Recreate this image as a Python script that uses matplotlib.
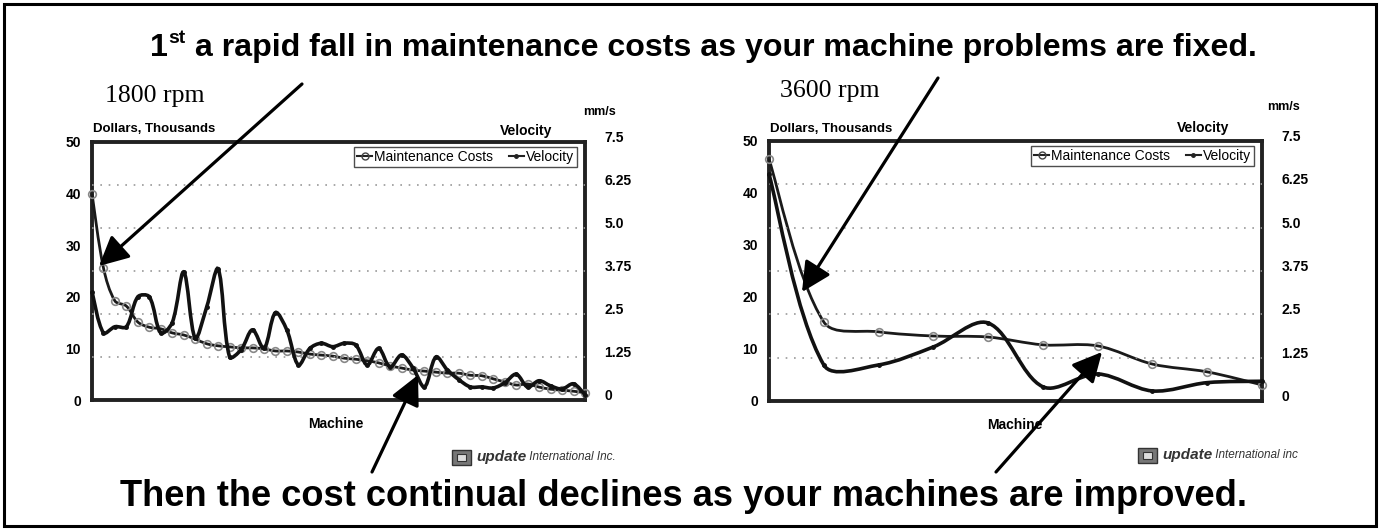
import numpy as np
import matplotlib
matplotlib.use("Agg")
import matplotlib.pyplot as plt
from matplotlib.path import Path
from matplotlib.patches import PathPatch, Rectangle
from matplotlib.lines import Line2D

plt.rcParams['font.family'] = ['Liberation Sans', 'DejaVu Sans']

# ---------------- data ----------------
cost_1800 = [40, 25.6, 19.2, 18.2, 15.1, 14.1, 13.8, 13, 12.6, 11.8, 10.9, 10.5, 10.3, 10.1,
             10.1, 9.9, 9.5, 9.5, 9.3, 8.9, 8.7, 8.5, 8.1, 7.9, 7.6, 7.2, 6.6, 6.2, 5.8, 5.6,
             5.4, 5.2, 5.2, 4.8, 4.7, 4.1, 3.5, 2.9, 3.1, 2.5, 2.1, 1.9, 1.7, 1.4]
vel_1800 = [3.15, 1.95, 2.13, 2.13, 3.0, 3.0, 1.95, 2.25, 3.72, 1.8, 2.7, 3.81, 1.25, 1.46,
            2.04, 1.5, 2.54, 2.03, 1.02, 1.5, 1.65, 1.55, 1.65, 1.6, 1.02, 1.5, 0.96, 1.31,
            0.93, 0.38, 1.25, 0.87, 0.59, 0.38, 0.38, 0.35, 0.5, 0.75, 0.38, 0.56, 0.41, 0.32,
            0.47, 0.15]
cost_3600 = [46.5, 15.2, 13.3, 12.5, 12.3, 10.8, 10.6, 7.1, 5.6, 3.1]
vel_3600 = [6.54, 1.04, 1.04, 1.56, 2.25, 0.41, 0.78, 0.29, 0.53, 0.57]

cost_ticks = [0, 10, 20, 30, 40, 50]
vel_ticks = [0, 1.25, 2.5, 3.75, 5.0, 6.25, 7.5]
vel_tick_labels = ['0', '1.25', '2.5', '3.75', '5.0', '6.25', '7.5']

title_text = " a rapid fall in maintenance costs as your machine problems are fixed."
bottom_text = "Then the cost continual declines as your machines are improved."

W, H = 1380, 531
fig = plt.figure(figsize=(W / 100, H / 100), dpi=100)


def smooth_path(xs, ys, sx, sy, t=1 / 3):
    """Smoothed (Excel-like) bezier path through the data points.
    sx, sy: pixel per data unit, used to weight tangents by screen segment lengths."""
    xs = np.asarray(xs, float)
    ys = np.asarray(ys, float)
    n = len(xs)
    d = np.hypot(np.diff(xs) * sx, np.diff(ys) * sy)
    verts = [(xs[0], ys[0])]
    codes = [Path.MOVETO]
    for i in range(n - 1):
        i0 = max(i - 1, 0)
        i3 = min(i + 2, n - 1)
        # tangent at i
        dprev = d[i - 1] if i > 0 else d[i]
        f1 = t * d[i] / (dprev + d[i])
        c1 = (xs[i] + (xs[i + 1] - xs[i0]) * f1, ys[i] + (ys[i + 1] - ys[i0]) * f1)
        dnext = d[i + 1] if i + 1 < n - 1 else d[i]
        f2 = t * d[i] / (d[i] + dnext)
        c2 = (xs[i + 1] - (xs[i3] - xs[i]) * f2, ys[i + 1] - (ys[i3] - ys[i]) * f2)
        verts += [c1, c2, (xs[i + 1], ys[i + 1])]
        codes += [Path.CURVE4] * 3
    return Path(verts, codes)


def make_chart(px_left, px_top, px_right, px_bottom, cost, vel):
    aw, ah = px_right - px_left, px_bottom - px_top
    ax = fig.add_axes([px_left / W, 1 - px_bottom / H, aw / W, ah / H])
    n = len(cost)
    x = np.arange(n)
    ax.set_xlim(0, n - 1)
    ax.set_ylim(0, 50)
    ax.set_yticks(cost_ticks)
    ax.set_yticklabels([str(t) for t in cost_ticks], fontsize=10, fontweight='bold')
    ax.tick_params(axis='y', length=0, pad=8)
    ax.set_xticks([])
    for s in ax.spines.values():
        s.set_linewidth(2.8)
        s.set_color('#222222')
    ax2 = ax.twinx()
    ax2.set_ylim(0, 7.5)
    ax2.set_xlim(0, n - 1)
    ax2.set_yticks(vel_ticks)
    ax2.set_yticklabels(vel_tick_labels, fontsize=10, fontweight='bold')
    ax2.tick_params(axis='y', length=0, pad=14)
    for lab in ax2.get_yticklabels():
        lab.set_va('baseline')
    for s in ax2.spines.values():
        s.set_visible(False)
    for tv in vel_ticks[1:-1]:
        ax2.axhline(tv, color='#999999', lw=1.2, ls=(0, (1, 4)), zorder=0)
    sx = aw / (n - 1)
    ax.add_patch(PathPatch(smooth_path(x, cost, sx, ah / 50), fill=False, lw=2.0,
                           ec='#1a1a1a', zorder=3, clip_on=False))
    ax.plot(x, cost, ls='none', marker='o', ms=5.5, mfc='none', mec='#888888', mew=1.2,
            zorder=4, clip_on=False)
    ax2.add_patch(PathPatch(smooth_path(x, vel, sx, ah / 7.5), fill=False, lw=2.6,
                            ec='#111111', zorder=3, clip_on=False))
    ax2.plot(x, vel, ls='none', marker='o', ms=2.5, mfc='#111111', mec='#111111',
             zorder=4, clip_on=False)
    handles = [Line2D([], [], color='#222222', lw=1.5, marker='o', ms=5, mfc='none',
                      mec='#444444'),
               Line2D([], [], color='#222222', lw=1.5, marker='o', ms=2.5, mfc='#222222')]
    leg = ax2.legend(handles, ['Maintenance Costs', 'Velocity'], ncol=2, loc='upper right',
                     bbox_to_anchor=(1 - 8 / aw, 1 - 5 / ah),
                     borderaxespad=0, fontsize=10, frameon=True, fancybox=False,
                     handlelength=1.1, handletextpad=0.15, columnspacing=1.1,
                     borderpad=0.2)
    leg.get_frame().set_edgecolor('#222222')
    leg.get_frame().set_linewidth(1.0)
    return ax, ax2


make_chart(92, 142, 585, 400, cost_1800, vel_1800)
make_chart(769, 141, 1262, 401, cost_3600, vel_3600)

# overlay in pixel coordinates
ov = fig.add_axes([0, 0, 1, 1], zorder=10)
ov.set_xlim(0, W)
ov.set_ylim(H, 0)
ov.axis('off')
ov.patch.set_alpha(0)

ov.add_patch(Rectangle((4, 4), W - 8, H - 9, fill=False, lw=2.2, ec='black'))

# title with superscript
TS = 20
t1 = ov.text(150, 56, "1", fontsize=TS, fontweight='bold', va='baseline', ha='left')
t2 = ov.annotate("st", xy=(1, 1), xycoords=t1, fontsize=TS * 0.6, fontweight='bold',
                 va='top', ha='left', xytext=(0.5, 2), textcoords='offset points')
t3 = ov.annotate(title_text, xy=(1, 56), xycoords=(t2, 'data'), fontsize=TS,
                 fontweight='bold', va='baseline', ha='left')
tb = ov.text(683, 506, bottom_text, fontsize=TS, fontweight='bold', va='baseline',
             ha='center')

fig.canvas.draw()
r = fig.canvas.get_renderer()
tw = t3.get_window_extent(r).x1 - t1.get_window_extent(r).x0
k = (1258 - 150) / tw
for t, s in [(t1, TS), (t2, TS * 0.6), (t3, TS)]:
    t.set_fontsize(s * k)
bw = tb.get_window_extent(r).width
tb.set_fontsize(TS * (1246 - 120) / bw)

# chart labels
for (x, y, s) in [(105, 96, "1800 rpm"), (780, 91, "3600 rpm")]:
    ov.text(x, y, s, fontsize=18.5, family=['Liberation Serif', 'DejaVu Serif'],
            va='center', ha='left')
for (x, y) in [(93, 129), (770, 129)]:
    ov.text(x, y, "Dollars, Thousands", fontsize=9.5, fontweight='bold', va='center', ha='left')
for (x, y) in [(552, 131), (1229, 128)]:
    ov.text(x, y, "Velocity", fontsize=10, fontweight='bold', va='center', ha='right')
for (x, y) in [(599, 112), (1284, 107)]:
    ov.text(x, y, "mm/s", fontsize=9, fontweight='bold', va='center', ha='center')
for (x, y) in [(336, 424), (1015, 425)]:
    ov.text(x, y, "Machine", fontsize=10, fontweight='bold', va='center', ha='center')

# logos
for (x, y, tail) in [(452, 457, "International Inc."), (1138, 455, "International inc")]:
    ov.add_patch(Rectangle((x, y - 7), 19, 15, fc='#777777', ec='#333333', lw=1))
    ov.add_patch(Rectangle((x + 5, y - 3), 9, 7, fc='#dddddd', ec='#333333', lw=0.8))
    tu = ov.text(x + 24, y, "update", fontsize=11, fontweight='bold', style='italic',
                 va='center', ha='left', color='#333333')
    ov.annotate(" " + tail, xy=(1, 0.5), xycoords=tu, fontsize=8.5, style='italic',
                va='center', ha='left', color='#333333')

# arrows
arrow_kw = dict(arrowstyle='-|>,head_length=0.9,head_width=0.45', lw=2.3, color='black',
                shrinkA=0, shrinkB=0, mutation_scale=20)
for (start, tip) in [((302, 84), (99, 266)), ((938, 78), (802, 292)),
                     ((372, 472), (418, 375)), ((996, 472), (1102, 352))]:
    ov.annotate('', xy=tip, xytext=start, arrowprops=arrow_kw)

fig.savefig("out.png", dpi=100)
